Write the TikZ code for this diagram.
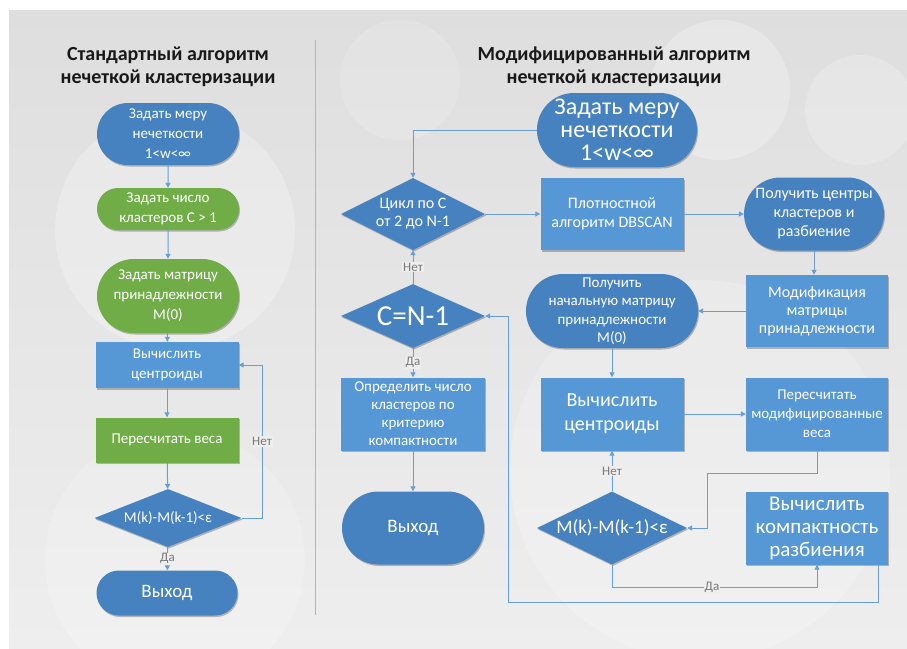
\documentclass[tikz,border=0pt]{standalone}
\usepackage{fontspec}
\setmainfont{Carlito}
\usetikzlibrary{shapes.geometric,shapes.misc,arrows.meta,shadows,calc}
\definecolor{bgA}{RGB}{222,222,222}
\definecolor{bgB}{RGB}{238,238,238}
\definecolor{blueD}{RGB}{70,130,192}
\definecolor{blueL}{RGB}{86,151,214}
\definecolor{greenN}{RGB}{112,173,71}
\definecolor{lineC}{RGB}{104,158,214}
\definecolor{lblC}{RGB}{120,120,120}
\tikzset{
  shad/.style={drop shadow={shadow xshift=1pt,shadow yshift=-1.5pt,opacity=0.25,fill=black}},
  stad/.style={rounded rectangle,fill=blueD,shad,text=white,align=center,inner sep=1pt},
  stadg/.style={stad,fill=greenN},
  rectb/.style={rectangle,fill=blueL,shad,text=white,align=center,inner sep=1pt},
  rectg/.style={rectb,fill=greenN},
  dia/.style={diamond,fill=blueD,shad,inner sep=0pt},
  dtxt/.style={text=white,align=center,inner sep=0pt},
  conn/.style={draw=lineC,line width=1pt,-{Triangle[length=5pt,width=5pt]}},
  lbl/.style={fill=bgB,text=lblC,inner sep=1pt,font=\fontsize{13}{14}\selectfont},
  ttl/.style={text=black!90,align=center,font=\bfseries\fontsize{20}{23}\selectfont},
  fsL/.style={font=\fontsize{15}{20}\selectfont},
  fsR/.style={font=\fontsize{16}{19}\selectfont},
}
\begin{document}
\begin{tikzpicture}[x=1pt,y=-1pt]
\useasboundingbox (0,0) rectangle (907,648);
\fill[white] (0,0) rectangle (907,648);
\shade[top color=bgA,bottom color=bgB] (9,10) rectangle (907,648);
% faint background circles
\fill[white,opacity=0.25] (175,230) circle (120);
\fill[white,opacity=0.18] (175,560) circle (130);
\fill[white,opacity=0.2] (700,470) circle (190);
\fill[white,opacity=0.25] (720,90) circle (70);
\fill[white,opacity=0.2] (860,110) circle (55);
\fill[white,opacity=0.15] (400,80) circle (60);
% divider
\draw[draw=lineC!70,line width=1pt] (315,40) -- (315,615);
% titles
\node[ttl] (t1) at (168,67) {Стандартный алгоритм\\нечеткой кластеризации};
\node[ttl] (t2) at (614,67) {Модифицированный алгоритм\\нечеткой кластеризации};
% left column
\node[stad,fsL,minimum width=144pt,minimum height=62pt] (L1) at (168,134) {Задать меру\\нечеткости\\1<w<∞};
\node[stadg,fsL,minimum width=144pt,minimum height=42pt] (L2) at (168,209) {Задать число\\кластеров C > 1};
\node[stadg,fsL,minimum width=144pt,minimum height=74pt] (L3) at (168,296) {Задать матрицу\\принадлежности\\M(0)};
\node[rectb,fsL,minimum width=143pt,minimum height=46pt] (L4) at (167,365) {Вычислить\\центроиды};
\node[rectg,fsL,minimum width=143pt,minimum height=45pt] (L5) at (167,440) {Пересчитать веса};
\node[dia,minimum width=147pt,minimum height=58pt,label={[dtxt,font=\fontsize{15}{16}\selectfont]center:M(k)-M(k-1)<ε}] (L6) at (168,518) {};
\node[stad,font=\fontsize{19}{20}\selectfont,minimum width=143pt,minimum height=45pt] (L7) at (167,593) {Выход};
\draw[conn] (L1) -- (L2);
\draw[conn] (L2) -- (L3);
\draw[conn] (L3) -- (L4);
\draw[conn] (L4) -- (L5);
\draw[conn] (L5) -- (L6);
\draw[conn] (L6) -- node[lbl] (lda1) {Да} (L7);
\coordinate (lc1) at (262,518);
\draw[conn] (L6.east) -- (lc1) -- node[lbl] (lnet1) {Нет} (lc1 |- L4.east) -- (L4.east);
% right part
\node[stad,font=\fontsize{24}{23}\selectfont,minimum width=158pt,minimum height=74pt] (R1) at (617,130) {Задать меру\\нечеткости\\1<w<∞};
\node[dia,minimum width=144pt,minimum height=72pt,label={[dtxt,font=\fontsize{16}{18}\selectfont]center:Цикл по C\\от 2 до N-1}] (D1) at (413,214) {};
\node[rectb,fsR,minimum width=143pt,minimum height=72pt] (R2) at (612,214) {Плотностной\\алгоритм DBSCAN};
\node[stad,fsR,minimum width=134pt,minimum height=73pt] (R3) at (814,214) {Получить центры\\кластеров и\\разбиение};
\node[rectb,font=\fontsize{16}{18}\selectfont,minimum width=142pt,minimum height=72pt] (R4) at (817,311) {Модификация\\матрицы\\принадлежности};
\node[stad,font=\fontsize{15}{18.5}\selectfont,minimum width=146pt,minimum height=74pt] (R5) at (612,311) {Получить\\начальную матрицу\\принадлежности\\M(0)};
\node[dia,minimum width=144pt,minimum height=64pt,label={[dtxt,font=\fontsize{29}{30}\selectfont]center:C=N-1}] (D2) at (413,316) {};
\node[rectb,font=\fontsize{15}{18}\selectfont,minimum width=144pt,minimum height=73pt] (R6) at (413,414) {Определить число\\кластеров по\\критерию\\компактности};
\node[stad,font=\fontsize{19}{20}\selectfont,minimum width=144pt,minimum height=73pt] (E2) at (413,528) {Выход};
\node[rectb,font=\fontsize{20}{24}\selectfont,minimum width=143pt,minimum height=73pt] (R7) at (612,414) {Вычислить\\центроиды};
\node[rectb,font=\fontsize{15}{19}\selectfont,minimum width=142pt,minimum height=73pt] (R8) at (817,414) {Пересчитать\\модифицированные\\веса};
\node[dia,minimum width=150pt,minimum height=73pt,label={[dtxt,font=\fontsize{19}{20}\selectfont]center:M(k)-M(k-1)<ε}] (D3) at (612,528) {};
\node[rectb,font=\fontsize{21}{23}\selectfont,minimum width=142pt,minimum height=73pt] (R9) at (817,528) {Вычислить\\компактность\\разбиения};
% right connectors
\draw[conn] (R1.west) -| (D1.north);
\draw[conn] (D1.east) -- (R2.west);
\draw[conn] (R2.east) -- (R3.west);
\draw[conn] (R3.south) -- (R3.south |- R4.north);
\draw[conn] (R4.west) -- (R5.east);
\draw[conn] (R5.south) -- (R7.north);
\draw[conn] (R7.east) -- (R8.west);
\coordinate (rc1) at (707,473);
\draw[conn] (R8.south) |- (rc1) |- (D3.east);
\draw[conn] (D3.north) -- node[lbl] (lnet3) {Нет} (R7.south);
\coordinate (rc2) at (612,587);
\draw[conn] (D3.south) -- (rc2) -| (R9.south);
\node[lbl] (lda3) at (712,587) {Да};
\coordinate (rc3) at (878,565);
\coordinate (rc4) at (878,602);
\coordinate (rc5) at (508,602);
\draw[conn] (rc3) -- (rc4) -- (rc5) |- (D2.east);
\draw[conn] (D2.north) -- node[lbl] (lnet2) {Нет} (D1.south);
\draw[conn] (D2.south) -- node[lbl] (lda2) {Да} (R6.north);
\draw[conn] (R6.south) -- (E2.north);
\end{tikzpicture}
\end{document}
